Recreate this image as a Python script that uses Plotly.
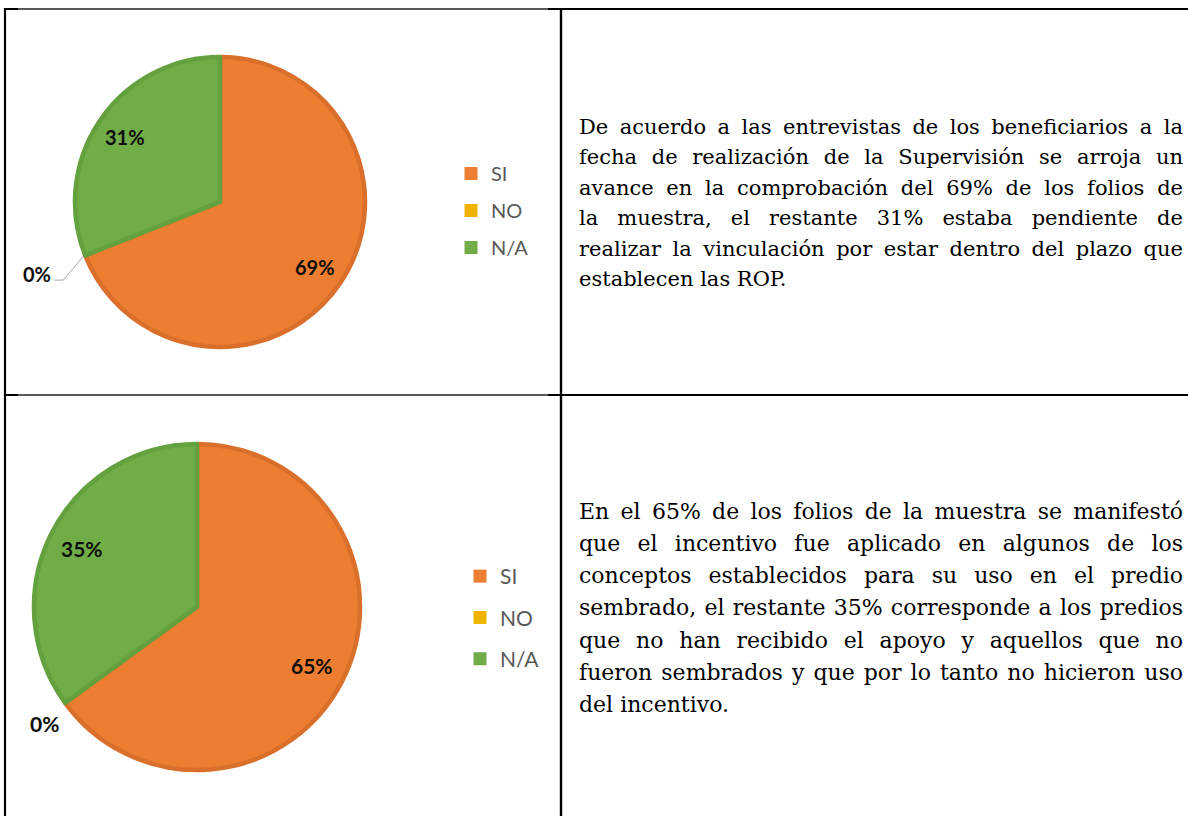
import math
import plotly.graph_objects as go

W, H = 1188, 816

# ---------------- data ----------------
labels = ["SI", "NO", "N/A"]
values_top = [69, 0, 31]
values_bottom = [65, 0, 35]
slice_colors = ["#ED7D31", "#F0B400", "#70AD47"]
edge_colors = ["#D96F2A", "#D9A300", "#63A03E"]

text_top = [
    "De acuerdo a las entrevistas de los beneficiarios a la",
    "fecha de realización de la Supervisión se arroja un",
    "avance en la comprobación del 69% de los folios de",
    "la muestra, el restante 31% estaba pendiente de",
    "realizar la vinculación por estar dentro del plazo que",
    "establecen las ROP.",
]
text_bottom = [
    "En el 65% de los folios de la muestra se manifestó",
    "que el incentivo fue aplicado en algunos de los",
    "conceptos establecidos para su uso en el predio",
    "sembrado, el restante 35% corresponde a los predios",
    "que no han recibido el apoyo y aquellos que no",
    "fueron sembrados y que por lo tanto no hicieron uso",
    "del incentivo.",
]

# ---------------- layout helpers ----------------
def px(x):
    return x / W


def py(y):
    return 1 - y / H


panels = [
    dict(values=values_top, cx=220, cy=202, r=147, lab_size=20, lab_frac=0.785,
         zero_off=(-46, 18), leader=[(-20, 24), (-29, 24)],
         legend="legend", leg_x=451, leg_y=154, leg_size=20, leg_gap=8,
         lines=text_top, text_y=127, pitch=30.4, text_size=21),
    dict(values=values_bottom, cx=197, cy=607, r=165, lab_size=21, lab_frac=0.785,
         zero_off=(-19, 20), leader=None,
         legend="legend2", leg_x=460, leg_y=556, leg_size=21, leg_gap=11,
         lines=text_bottom, text_y=511, pitch=32.3, text_size=22),
]

fig = go.Figure()
annotations = []
shapes = []

label_font = dict(family="Lato", size=20, color="#0D0D0D", weight="bold")

for p in panels:
    vals = p["values"]
    total = float(sum(vals))
    cx, cy, r = p["cx"], p["cy"], p["r"]
    rd = r - 2  # stroke is centred on the edge
    fig.add_trace(go.Pie(
        labels=labels, values=vals, sort=False, direction="clockwise", rotation=0,
        marker=dict(colors=slice_colors,
                    line=dict(color=edge_colors, width=[4.5, 0, 4.5])),
        textinfo="none", hoverinfo="label+percent", showlegend=False,
        domain=dict(x=[px(cx - rd), px(cx + rd)], y=[py(cy + rd), py(cy - rd)]),
    ))

    def pt(ang_deg, dist):
        a = math.radians(ang_deg)
        return cx + dist * math.sin(a), cy - dist * math.cos(a)

    start = 0.0
    for lab, v in zip(labels, vals):
        sweep = 360.0 * v / total
        pct = f"{round(100 * v / total)}%"
        f = dict(label_font, size=p["lab_size"])
        if v > 0:
            x, y = pt(start + sweep / 2, p["lab_frac"] * r)
            annotations.append(dict(x=px(x), y=py(y), xref="paper", yref="paper",
                                    xanchor="center", yanchor="middle",
                                    text=pct, showarrow=False, font=f))
        else:
            bx, by = pt(start, r)
            ox, oy = p["zero_off"]
            annotations.append(dict(x=px(bx + ox), y=py(by + oy), xref="paper", yref="paper",
                                    xanchor="center", yanchor="middle",
                                    text=pct, showarrow=False, font=f))
            if p["leader"]:
                path = f"M {px(bx)} {py(by)}"
                for lx, ly in p["leader"]:
                    path += f" L {px(bx + lx)} {py(by + ly)}"
                shapes.append(dict(type="path", path=path, xref="paper", yref="paper",
                                   line=dict(color="#A6A6A6", width=1)))
        start += sweep

    # legend entries
    for lab, col in zip(labels, slice_colors):
        fig.add_trace(go.Scatter(
            x=[None], y=[None], mode="markers", name=lab,
            marker=dict(symbol="square", size=13, color=col, line=dict(width=0)),
            legend=p["legend"], legendgroup=f"{p['legend']}-{lab}",
            showlegend=True, hoverinfo="skip",
        ))

    # paragraph text
    n = len(p["lines"])
    for i, line in enumerate(p["lines"]):
        ann = dict(x=px(577), y=py(p["text_y"] + i * p["pitch"]), xref="paper", yref="paper",
                   xanchor="left", yanchor="middle", align="left", text=line,
                   showarrow=False,
                   font=dict(family="DejaVu Serif", size=p["text_size"], color="#000000"))
        if i < n - 1:
            ann["name"] = "justify:1183"
        annotations.append(ann)

# table rules
BLACK = "#000000"
GREY = "#5A5A5A"
def hline(x0, x1, y, color, w):
    shapes.append(dict(type="line", xref="paper", yref="paper",
                       x0=px(x0), x1=px(x1), y0=py(y), y1=py(y),
                       line=dict(color=color, width=w)))

def vline(x, y0, y1, color, w):
    shapes.append(dict(type="line", xref="paper", yref="paper",
                       x0=px(x), x1=px(x), y0=py(y0), y1=py(y1),
                       line=dict(color=color, width=w)))

for y in (9, 395):
    hline(4, 1188, y, BLACK, 2.2)
    hline(18, 548, y, GREY, 2.2)
vline(5, 8, 816, BLACK, 2.2)
vline(561, 8, 816, BLACK, 2.4)

leg_common = dict(xanchor="left", yanchor="top", traceorder="grouped",
                  bgcolor="rgba(0,0,0,0)", borderwidth=0, itemclick=False,
                  itemdoubleclick=False)
fig.update_layout(
    width=W, height=H, autosize=False,
    margin=dict(l=0, r=0, t=0, b=0, pad=0),
    paper_bgcolor="white", plot_bgcolor="white",
    xaxis=dict(visible=False), yaxis=dict(visible=False),
    annotations=annotations, shapes=shapes,
    legend=dict(leg_common, x=px(panels[0]["leg_x"]), y=py(panels[0]["leg_y"]),
                tracegroupgap=panels[0]["leg_gap"],
                font=dict(family="Lato", size=panels[0]["leg_size"], color="#595959")),
    legend2=dict(leg_common, x=px(panels[1]["leg_x"]), y=py(panels[1]["leg_y"]),
                 tracegroupgap=panels[1]["leg_gap"],
                 font=dict(family="Lato", size=panels[1]["leg_size"], color="#595959")),
)

post = """
var gd = document.getElementById('{plot_id}');
document.body.style.margin = '0';
document.body.style.overflow = 'hidden';
var anns = (gd.layout && gd.layout.annotations) || [];
gd.querySelectorAll('g.annotation').forEach(function(g) {
  var i = parseInt(g.getAttribute('data-index'));
  var a = anns[i];
  if (!a || typeof a.name !== 'string' || a.name.indexOf('justify:') !== 0) return;
  var right = parseFloat(a.name.split(':')[1]);
  var t = g.querySelector('text.annotation-text');
  if (!t) return;
  var n = (t.textContent.match(/[ \\u00a0]/g) || []).length;
  if (!n) return;
  var w0 = t.getComputedTextLength();
  var left = t.getBoundingClientRect().left;
  t.style.wordSpacing = (((right - left) - w0) / n) + 'px';
  var r2 = t.getBoundingClientRect().right;
  if (Math.abs(r2 - right) > 4) {
    t.style.wordSpacing = '';
    t.setAttribute('textLength', String(right - left));
    t.setAttribute('lengthAdjust', 'spacing');
  }
});
"""

fig.write_html("out.html", post_script=post, config={"displayModeBar": False})
